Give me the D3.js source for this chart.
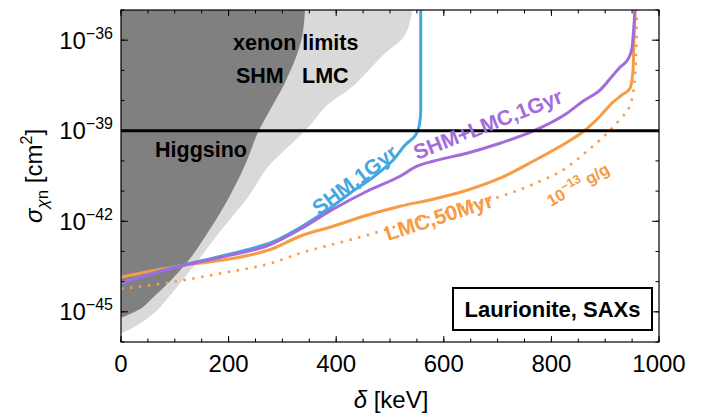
<!DOCTYPE html>
<html><head><meta charset="utf-8">
<script src="https://cdn.jsdelivr.net/npm/d3@7"></script>
<style>
body{margin:0;background:#fff}
svg{display:block}
text{font-family:"Liberation Sans",Arial,Helvetica,sans-serif}
</style>
</head><body>
<svg id="chart" width="704" height="415"></svg>
<script>
// ---- data (delta in keV, log10 of sigma in cm^2) ----
const xMajorTicks = [0, 200, 400, 600, 800, 1000];
const xTickLabels = ["0", "200", "400", "600", "800", "1000"];
const yMajorExps = [-36, -39, -42, -45];

const shmXenonDelta = [342, 336, 305, 271, 256, 232, 201, 164, 121, 93, 61, 31, 0];
const shmXenonLog   = [-35, -35.93, -37.4, -38.5, -39.0, -40.08, -41.2, -42.3, -43.4, -43.95, -44.5, -44.95, -45.2];

const lmcXenonDelta = [541, 537, 524, 487, 457, 426, 383, 357, 342, 310, 279, 236, 186, 139, 89, 61, 30, 0];
const lmcXenonLog   = [-35, -35.4, -35.93, -36.5, -37.06, -37.6, -38.15, -38.7, -39.0, -39.55, -40.08, -41.2, -42.3, -43.4, -44.5, -45.05, -45.45, -45.72];

const higgsinoLog = -39;

const shm1GyrDelta = [557.1, 557.1, 555.8, 552.0, 544.6, 531.6, 505.6, 468.4, 425.7, 382.9, 345.7, 314.1, 278.8, 185.9, 117.1, 0];
const shm1GyrLog   = [-35.0, -38.32, -38.65, -38.98, -39.215, -39.414, -39.977, -40.541, -41.071, -41.635, -42.066, -42.397, -42.712, -43.16, -43.442, -44.038];

const shmLmcDelta = [0, 117.1, 185.9, 278.8, 332.7, 394.1, 457.2, 518.6, 550.2, 579.9, 643.1, 704.5, 765.8, 829.0, 858.7, 890.3, 914.5, 927.5, 942.4, 949.8, 953.5, 955.4];
const shmLmcLog   = [-44.054, -43.458, -43.193, -42.762, -42.265, -41.602, -41.005, -40.508, -40.176, -40.011, -39.745, -39.414, -39.016, -38.42, -38.022, -37.657, -37.16, -36.895, -36.63, -36.265, -35.503, -35.0];

const lmc50Delta = [0, 53.9, 117.1, 185.9, 278.8, 332.7, 394.1, 457.2, 518.6, 579.9, 643.1, 704.5, 765.8, 829.0, 862.5, 890.3, 914.5, 933.1, 946.1, 951.7, 953.5, 955.4];
const lmc50Log   = [-43.855, -43.657, -43.458, -43.292, -42.927, -42.497, -42.165, -41.801, -41.502, -41.27, -40.972, -40.574, -40.011, -39.381, -38.983, -38.519, -38.055, -37.79, -37.592, -36.994, -36.0, -35.0];

const lmcDotDelta = [0, 92.9, 185.9, 278.8, 332.7, 394.1, 457.2, 518.6, 611.5, 717.5, 765.8, 829.0, 866.2, 903.3, 927.5, 946.1, 953.5, 957.2, 959.1];
const lmcDotLog   = [-44.237, -44.021, -43.723, -43.392, -43.06, -42.762, -42.463, -42.131, -41.667, -41.104, -40.773, -40.21, -39.68, -39.083, -38.619, -38.155, -37.558, -36.497, -35.0];

// ---- layout ----
const svg = d3.select("#chart");
const L = 121, R = 659, T = 10, B = 342;
const x = d3.scaleLinear().domain([0, 1000]).range([L, R]);
const y = d3.scaleLog().domain([1e-46, 1e-35]).range([B, T]);

const zip = (dx, ly) => dx.map((d, i) => [d, Math.pow(10, ly[i])]);

svg.append("defs").append("clipPath").attr("id", "clip")
  .append("rect").attr("x", L).attr("y", T).attr("width", R - L).attr("height", B - T);

const plot = svg.append("g").attr("clip-path", "url(#clip)");

const lineY = d3.line().x(d => x(d[0])).y(d => y(d[1])).curve(d3.curveMonotoneY);
const lineX = d3.line().x(d => x(d[0])).y(d => y(d[1])).curve(d3.curveMonotoneX);

// regions: boundary + top-left corner closure
function regionPath(dx, ly) {
  const pts = zip(dx, ly);
  const boundary = lineY(pts);
  const left = x(0) - 5, top = y(1e-35) - 5;
  return boundary + `L${left},${y(pts[pts.length - 1][1])}L${left},${top}L${x(pts[0][0])},${top}Z`;
}
plot.append("path").attr("d", regionPath(lmcXenonDelta, lmcXenonLog)).attr("fill", "#d9d9d9");
plot.append("path").attr("d", regionPath(shmXenonDelta, shmXenonLog)).attr("fill", "#808080");

const blue = "#45a7df", purple = "#a36cdb", orange = "#f89b45";

plot.append("path").attr("d", lineX(zip(lmcDotDelta, lmcDotLog)))
  .attr("fill", "none").attr("stroke", orange).attr("stroke-width", 2.6)
  .attr("stroke-dasharray", "2.5,6.5");
plot.append("path").attr("d", lineX(zip(lmc50Delta, lmc50Log)))
  .attr("fill", "none").attr("stroke", orange).attr("stroke-width", 3);
plot.append("path").attr("d", lineY(zip(shm1GyrDelta, shm1GyrLog)))
  .attr("fill", "none").attr("stroke", blue).attr("stroke-width", 3);
plot.append("path").attr("d", lineX(zip(shmLmcDelta, shmLmcLog)))
  .attr("fill", "none").attr("stroke", purple).attr("stroke-width", 3);

// Higgsino line
plot.append("line").attr("x1", L).attr("x2", R)
  .attr("y1", y(Math.pow(10, higgsinoLog))).attr("y2", y(Math.pow(10, higgsinoLog)))
  .attr("stroke", "#000").attr("stroke-width", 3.2);

// ---- region labels ----
const bold = (t, px, py, size, color) => svg.append("text").attr("x", px).attr("y", py)
  .attr("font-size", size).attr("font-weight", "bold").attr("fill", color || "#000").text(t);
bold("xenon limits", 233, 50, 21.5);
bold("SHM", 236, 83, 21.5);
bold("LMC", 302, 83, 21.5);
bold("Higgsino", 155, 157, 21.5);

// curve labels
function rlabel(t, px, py, ang, color, size) {
  return svg.append("text").attr("transform", `translate(${px},${py}) rotate(${ang})`)
    .attr("font-size", size).attr("font-weight", "bold").attr("fill", color).text(t);
}
rlabel("SHM,1Gyr", 319, 216, -37, blue, 21);
rlabel("SHM+LMC,1Gyr", 417, 160, -21.5, purple, 21);
rlabel("LMC,50Myr", 388, 241, -18, orange, 21);
const gg = svg.append("text").attr("transform", "translate(551,207) rotate(-30)")
  .attr("font-size", 16.5).attr("font-weight", "bold").attr("fill", orange);
gg.append("tspan").text("10");
gg.append("tspan").attr("font-size", 12.5).attr("dy", -7).text("\u221213");
gg.append("tspan").attr("dy", 7).text(" g/g");

// legend box
svg.append("rect").attr("x", 453).attr("y", 288).attr("width", 199).attr("height", 42)
  .attr("fill", "#fff").attr("stroke", "#000").attr("stroke-width", 2);
svg.append("text").attr("x", 552.5).attr("y", 317).attr("text-anchor", "middle")
  .attr("font-size", 22).attr("font-weight", "bold").text("Laurionite, SAXs");

// ---- axes / frame ----
const minorX = d3.range(0, 1001, 50);
const minorY = d3.range(-46, -34).map(e => Math.pow(10, e));
const majorY = yMajorExps.map(e => Math.pow(10, e));
const axes = svg.append("g").attr("stroke", "#000");
function ticks(g, vals, scale, horizontal, base, len) {
  vals.forEach(v => {
    const p = scale(v);
    if (horizontal) g.append("line").attr("x1", p).attr("x2", p).attr("y1", base).attr("y2", base + len);
    else g.append("line").attr("y1", p).attr("y2", p).attr("x1", base).attr("x2", base + len);
  });
}
ticks(axes, minorX, x, true, B, -3.5);
ticks(axes, xMajorTicks, x, true, B, -6);
ticks(axes, minorX, x, true, T, 3.5);
ticks(axes, xMajorTicks, x, true, T, 6);
ticks(axes, minorY, y, false, L, 3.5);
ticks(axes, majorY, y, false, L, 7);
ticks(axes, minorY, y, false, R, -3.5);
ticks(axes, majorY, y, false, R, -7);
axes.selectAll("line").attr("stroke-width", 1);
svg.append("rect").attr("x", L).attr("y", T).attr("width", R - L).attr("height", B - T)
  .attr("fill", "none").attr("stroke", "#000").attr("stroke-width", 1.2);

// x tick labels
xMajorTicks.forEach((v, i) => {
  svg.append("text").attr("x", x(v)).attr("y", 372).attr("text-anchor", "middle")
    .attr("font-size", 24).text(xTickLabels[i]);
});
// y tick labels
yMajorExps.forEach(e => {
  const t = svg.append("text").attr("x", 113).attr("y", y(Math.pow(10, e)) + 8.5)
    .attr("text-anchor", "end").attr("font-size", 24);
  t.append("tspan").text("10");
  t.append("tspan").attr("font-size", 16).attr("dy", -10).text("\u2212" + Math.abs(e));
});

// axis titles
const xt = svg.append("text").attr("x", 391).attr("y", 408).attr("text-anchor", "middle").attr("font-size", 24);
xt.append("tspan").attr("font-style", "italic").text("\u03b4");
xt.append("tspan").text(" [keV]");

const yt = svg.append("text").attr("transform", `translate(42,${(T + B) / 2}) rotate(-90)`)
  .attr("text-anchor", "middle").attr("font-size", 24);
yt.append("tspan").attr("font-style", "italic").text("\u03c3");
yt.append("tspan").attr("font-size", 17).attr("dy", 6).attr("font-style", "italic").text("\u03c7");
yt.append("tspan").attr("font-size", 17).text("n");
yt.append("tspan").attr("dy", -6).text(" [cm");
yt.append("tspan").attr("font-size", 16).attr("dy", -10).text("2");
yt.append("tspan").attr("dy", 10).text("]");
</script>
</body></html>
